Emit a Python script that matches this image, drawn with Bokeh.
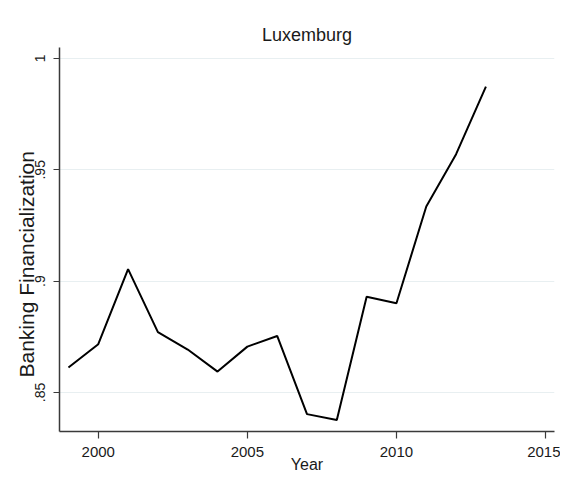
import math
from bokeh.plotting import figure
from bokeh.models import Range1d, FixedTicker, CustomJSTickFormatter, ColumnDataSource, Title
from bokeh.embed import file_html
from bokeh.resources import INLINE

# Data
years = [1999, 2000, 2001, 2002, 2003, 2004, 2005, 2006, 2007, 2008, 2009, 2010, 2011, 2012, 2013]
financialization = [0.8612, 0.8717, 0.9054, 0.8771, 0.8693, 0.8594, 0.8706, 0.8754,
                    0.8403, 0.8377, 0.8930, 0.8901, 0.9335, 0.9570, 0.9873]
x_ticks = [2000, 2005, 2010, 2015]
y_ticks = [0.85, 0.9, 0.95, 1.0]

title_text = "Luxemburg"
x_label = "Year"
y_label = "Banking Financialization"

FONT = "Liberation Sans"
TXT = "#1a1a1a"
AX = "#3a3a3a"

src = ColumnDataSource(dict(year=years, value=financialization))

p = figure(width=560, height=490, output_backend="svg", toolbar_location=None,
           x_range=Range1d(1998.70, 2015.30), y_range=Range1d(0.8325, 1.0049),
           min_border_left=59, min_border_right=6, min_border_top=47, min_border_bottom=59)

p.background_fill_color = "white"
p.border_fill_color = "white"
p.outline_line_color = None

p.title.text = title_text
p.title.align = "center"
p.title.text_font = FONT
p.title.text_font_size = "18px"
p.title.text_font_style = "normal"
p.title.text_color = TXT
p.title.standoff = 6

# x axis
xa = p.xaxis[0]
xa.ticker = FixedTicker(ticks=x_ticks)
xa.axis_label = x_label
xa.axis_label_text_font = FONT
xa.axis_label_text_font_size = "16px"
xa.axis_label_text_font_style = "normal"
xa.axis_label_text_color = TXT
xa.axis_label_standoff = -4
xa.major_label_text_font = FONT
xa.major_label_text_font_size = "15px"
xa.major_label_text_color = TXT
xa.major_label_standoff = 8
xa.major_tick_in = 0
xa.major_tick_out = 7
xa.minor_tick_line_color = None
xa.axis_line_color = AX
xa.axis_line_width = 1.5
xa.major_tick_line_color = AX
xa.major_tick_line_width = 1.2

# y axis
ya = p.yaxis[0]
ya.ticker = FixedTicker(ticks=y_ticks)
ya.formatter = CustomJSTickFormatter(code="""
    let s = tick.toFixed(2).replace(/0+$/, '').replace(/\\.$/, '');
    return s.replace(/^0\\./, '.');
""")
ya.major_label_orientation = "vertical"
ya.major_label_text_font = FONT
ya.major_label_text_font_size = "14px"
ya.major_label_text_color = TXT
ya.major_label_standoff = 8
ya.major_tick_in = 0
ya.major_tick_out = 6
ya.minor_tick_line_color = None
ya.axis_line_color = AX
ya.axis_line_width = 1.5
ya.major_tick_line_color = AX
ya.major_tick_line_width = 1.2

# y axis title, as a left-side title starting a little above the frame bottom
p.add_layout(Title(text=y_label, align="left", offset=54, standoff=-10,
                   text_font=FONT, text_font_size="21px", text_font_style="normal",
                   text_color=TXT), "left")

p.xgrid.visible = False
p.ygrid.grid_line_color = "#e8eff1"
p.ygrid.grid_line_width = 1.2

p.line("year", "value", source=src, line_color="black", line_width=2)

open("out.html", "w").write(file_html(p, INLINE))
